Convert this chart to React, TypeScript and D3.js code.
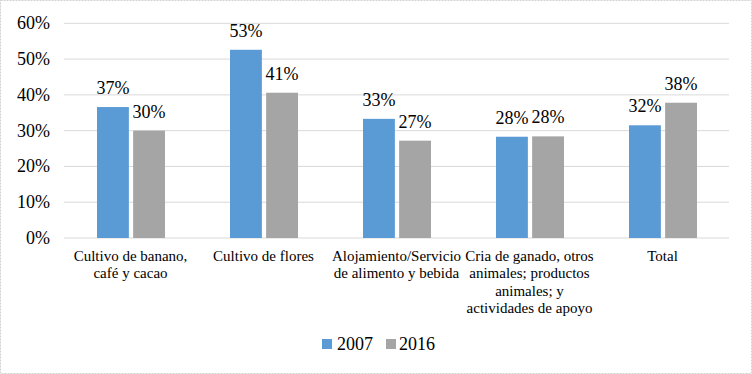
import React, { useEffect } from 'react';
import * as d3 from 'd3';

const categories = [
  ['Cultivo de banano,', 'café y cacao'],
  ['Cultivo de flores'],
  ['Alojamiento/Servicio', 'de alimento y bebida'],
  ['Cria de ganado, otros', 'animales; productos', 'animales; y', 'actividades de apoyo'],
  ['Total'],
];
const series2007 = [0.366, 0.526, 0.333, 0.283, 0.315];
const series2016 = [0.3, 0.406, 0.272, 0.284, 0.378];
const seriesNames = ['2007', '2016'];
const yTicks = [0, 0.1, 0.2, 0.3, 0.4, 0.5, 0.6];

const width = 752;
const height = 374;
const font = 'Liberation Serif';
const colors = ['#5B9BD5', '#A5A5A5'];

export default function App() {
  useEffect(() => {
    document.body.style.margin = '0';
  }, []);

  const x0 = d3.scaleBand().domain(d3.range(categories.length).map(String)).range([64, 729]);
  const x1 = d3.scaleBand().domain(seriesNames).range([33, 101]).paddingInner(8 / 68);
  const y = d3.scaleLinear().domain([0, 0.6]).range([238, 23.3]);
  const pct = d3.format('.0%');
  const allSeries = [series2007, series2016];

  return (
    <svg width={width} height={height} style={{ display: 'block' }}>
      <rect x={0.5} y={0.5} width={width - 1} height={height - 1} fill="#fff" stroke="#d0d0d0" strokeDasharray="2 1" />
      {yTicks.map(t => (
        <g key={t}>
          <line x1={64} x2={729} y1={y(t)} y2={y(t)} stroke="#d9d9d9" strokeWidth={1} />
          <text x={50} y={y(t) + 6} textAnchor="end" fontSize={18} fontFamily={font}>
            {pct(t)}
          </text>
        </g>
      ))}
      {allSeries.map((vals, si) =>
        vals.map((v, i) => {
          const bx = (x0(String(i)) as number) + (x1(seriesNames[si]) as number);
          const bw = x1.bandwidth();
          return (
            <g key={`${si}-${i}`}>
              <rect x={bx} y={y(v)} width={bw} height={y(0) - y(v)} fill={colors[si]} />
              <text x={bx + bw / 2} y={y(v) - 13} textAnchor="middle" fontSize={18} fontFamily={font}>
                {pct(v)}
              </text>
            </g>
          );
        })
      )}
      {categories.map((lines, i) =>
        lines.map((l, j) => (
          <text
            key={`${i}-${j}`}
            x={(x0(String(i)) as number) + x0.bandwidth() / 2}
            y={261 + j * 17.3}
            textAnchor="middle"
            fontSize={15}
            fontFamily={font}
          >
            {l}
          </text>
        ))
      )}
      <g>
        <rect x={322} y={339} width={10} height={10} fill={colors[0]} />
        <text x={337} y={350} fontSize={18} fontFamily={font}>{seriesNames[0]}</text>
        <rect x={386} y={339} width={10} height={10} fill={colors[1]} />
        <text x={399} y={350} fontSize={18} fontFamily={font}>{seriesNames[1]}</text>
      </g>
    </svg>
  );
}
